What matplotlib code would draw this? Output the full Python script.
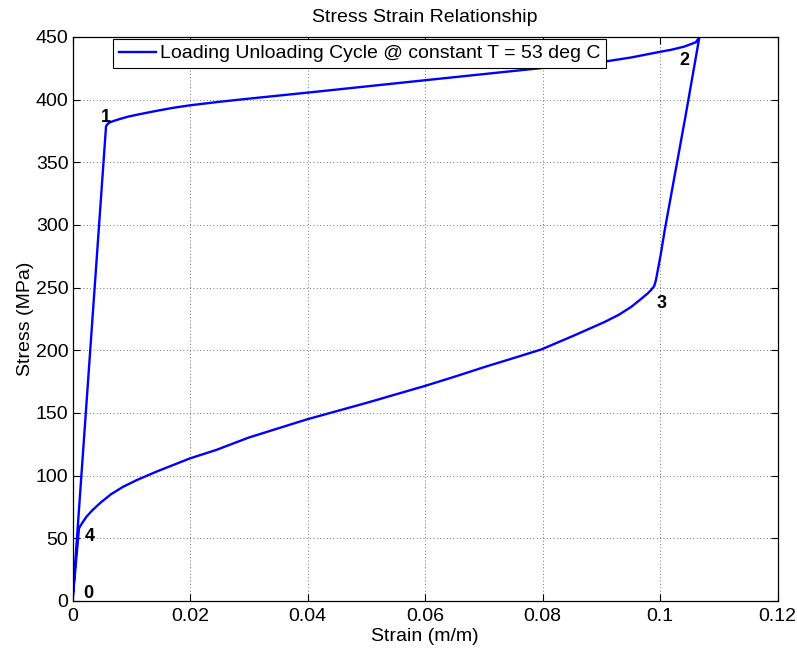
import numpy as np
import matplotlib.pyplot as plt

plt.rcParams['font.family'] = ['Liberation Sans', 'DejaVu Sans']

# loading: elastic to point 1, transformation plateau to point 2
load_strain = [0.0, 0.0057, 0.0059, 0.0063, 0.0070, 0.0080, 0.0095,
               0.01142, 0.0140, 0.0170, 0.0200, 0.0250, 0.0300, 0.0400,
               0.0600, 0.0800, 0.0906, 0.0950, 0.0996, 0.1020, 0.1041,
               0.1061, 0.1067]
load_stress = [0.0, 378.5, 380.3, 381.8, 383.0, 384.5, 386.5,
               388.4, 390.8, 393.4, 395.5, 398.3, 400.8, 405.6,
               415.5, 425.3, 430.4, 433.6, 437.8, 439.9, 442.3,
               445.8, 450.0]

# unloading: elastic to point 3, reverse transformation to point 4, back to 0
unload_strain = [0.1043, 0.1008, 0.1001, 0.0993, 0.0990, 0.0985,
                 0.0979, 0.0966, 0.0951, 0.0930, 0.0906, 0.0855, 0.0798,
                 0.0750, 0.0702, 0.0650, 0.0600, 0.0500, 0.0399, 0.0300,
                 0.0244, 0.0200, 0.01424, 0.0110, 0.0086, 0.0065, 0.00464,
                 0.0033, 0.00237, 0.0017, 0.00125, 0.0011, 0.0]
unload_stress = [386.0, 296.0, 276.0, 256.0, 251.2, 248.3,
                 245.4, 240.3, 234.7, 228.4, 222.7, 212.1, 200.7,
                 193.7, 186.8, 178.9, 171.6, 158.0, 144.9, 130.4,
                 120.4, 113.8, 103.1, 96.6, 91.1, 85.0, 77.9,
                 72.0, 67.2, 62.6, 59.2, 58.0, 0.0]

point_labels = ['0', '1', '2', '3', '4']
label_strain = [0.0027, 0.0057, 0.1041, 0.1002, 0.0029]
label_stress = [6.0, 385.7, 431.4, 237.4, 51.3]

strain = load_strain + unload_strain
stress = load_stress + unload_stress

fig = plt.figure(figsize=(7.97, 6.49), dpi=100)
ax = fig.add_axes([0.091, 0.074, 0.8846, 0.869])

ax.plot(strain, stress, color='#0000ff', lw=1.7,
        label='Loading Unloading Cycle @ constant T = 53 deg C')

for lab, x, y in zip(point_labels, label_strain, label_stress):
    ax.text(x, y, lab, fontsize=13, fontweight='bold', ha='center', va='center')

ax.set_xlim(0, 0.12)
ax.set_ylim(0, 450)
ax.set_xticks(np.arange(0, 0.121, 0.02))
ax.set_xticklabels(['0', '0.02', '0.04', '0.06', '0.08', '0.1', '0.12'])
ax.set_yticks(np.arange(0, 451, 50))

ax.grid(True, linestyle=(0, (1, 3)), color='#444444', lw=0.6)
ax.tick_params(direction='in', top=True, right=True, length=5, width=0.8,
               labelsize=14)
ax.tick_params(axis='x', pad=5)
ax.tick_params(axis='y', pad=3)
for s in ax.spines.values():
    s.set_linewidth(0.9)

ax.set_xlabel('Strain (m/m)', fontsize=14, labelpad=2)
ax.set_ylabel('Stress (MPa)', fontsize=14, labelpad=1)
ax.set_title('Stress Strain Relationship', fontsize=14, pad=11)

leg = ax.legend(loc='upper left', bbox_to_anchor=(0.0574, 0.9965), fontsize=14,
                fancybox=False, framealpha=1, edgecolor='black',
                handlelength=1.9, handletextpad=0.2, borderpad=0.3,
                borderaxespad=0)
leg.get_frame().set_linewidth(0.8)

fig.savefig('out.png', dpi=100)
